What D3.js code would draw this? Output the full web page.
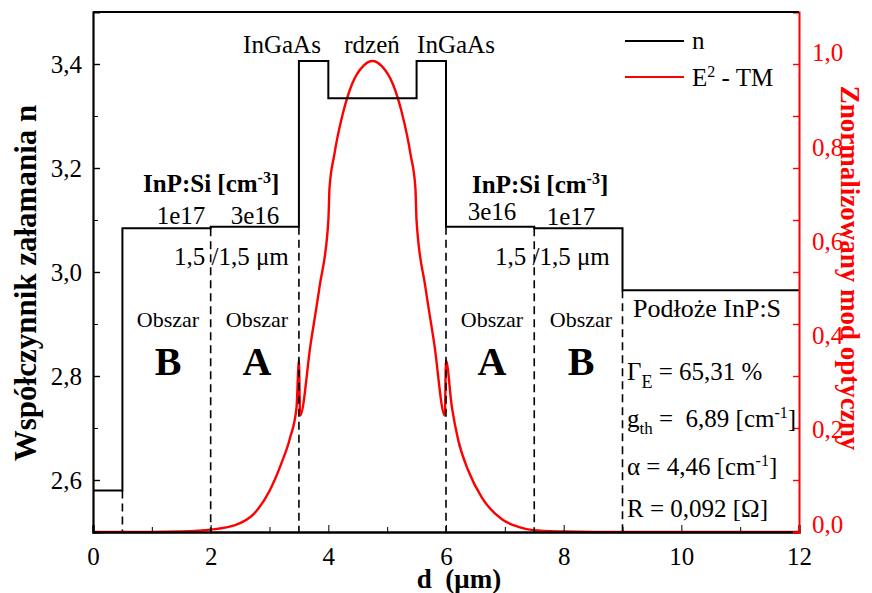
<!DOCTYPE html>
<html>
<head>
<meta charset="utf-8">
<script src="https://cdn.jsdelivr.net/npm/d3@7"></script>
<style>
  body { margin: 0; background: #fff; }
  svg text { font-family: "Liberation Serif", "Times New Roman", serif; }
</style>
</head>
<body>
<div id="chart"></div>
<script>
// warstwy falowodu: poczatek warstwy (um) i wspolczynnik n
var layerStart = [0, 0.5, 2, 3.5, 4, 5.5, 6, 7.5, 9];
var layerEnd = 12;
var layerN = [2.58, 3.084, 3.087, 3.406, 3.334, 3.406, 3.087, 3.084, 2.965];
var boundaries = [0.5, 2, 3.5, 6, 7.5, 9];

// znormalizowany mod E^2 - TM
var modeD = [0, 1.0, 1.5, 2.0, 2.4, 2.73, 3.0, 3.2, 3.35, 3.46, 3.5, 3.52, 3.7, 3.85, 4.0, 4.02,
             4.1, 4.25, 4.4, 4.6, 4.75, 4.9, 5.1, 5.25, 5.4, 5.48, 5.5, 5.65, 5.8, 5.98, 6.0,
             6.1, 6.21, 6.38, 6.61, 6.95, 7.23, 7.48, 8.0, 8.5, 12];
var modeE2 = [0, 0, 0.001, 0.005, 0.014, 0.038, 0.087, 0.145, 0.2, 0.265, 0.364, 0.247, 0.4, 0.52, 0.66, 0.73,
              0.8, 0.89, 0.95, 0.99, 1.0, 0.99, 0.95, 0.89, 0.8, 0.73, 0.66, 0.52, 0.4, 0.247, 0.364,
              0.265, 0.194, 0.13, 0.073, 0.027, 0.011, 0.004, 0.001, 0, 0];

var xTicks = [0, 2, 4, 6, 8, 10, 12];
var xMinor = [1, 3, 5, 7, 9, 11];
var nTicks = [2.6, 2.8, 3.0, 3.2, 3.4];
var nMinor = [2.5, 2.7, 2.9, 3.1, 3.3, 3.5];
var modeTicks = [0, 0.2, 0.4, 0.6, 0.8, 1.0];

var width = 872, height = 593;
var margin = { top: 12, right: 73, bottom: 61, left: 93 };
var red = "#ff0000";

var svg = d3.select("#chart").append("svg")
  .attr("width", width)
  .attr("height", height);

var x = d3.scaleLinear().domain([0, 12]).range([margin.left, width - margin.right]);
var yL = d3.scaleLinear().domain([2.5, 3.5]).range([height - margin.bottom, margin.top]);
var yR = d3.scaleLinear().domain([0, 1.104]).range([height - margin.bottom, margin.top]);

var comma = d => d3.format(".1f")(d).replace(".", ",");

// krzywa modu
var mode = modeD.map((d, i) => [d, modeE2[i]]);
svg.append("path")
  .datum(mode)
  .attr("fill", "none")
  .attr("stroke", red)
  .attr("stroke-width", 2.4)
  .attr("d", d3.line().x(d => x(d[0])).y(d => yR(d[1])).curve(d3.curveMonotoneX));

// profil n
var steps = layerStart.map((d, i) => [d, layerN[i]]);
steps.push([layerEnd, layerN[layerN.length - 1]]);
svg.append("path")
  .datum(steps)
  .attr("fill", "none")
  .attr("stroke", "#000")
  .attr("stroke-width", 2)
  .attr("d", d3.line().x(d => x(d[0])).y(d => yL(d[1])).curve(d3.curveStepAfter));

// przerywane granice warstw
svg.selectAll("line.bound")
  .data(boundaries)
  .join("line")
  .attr("class", "bound")
  .attr("x1", d => x(d)).attr("x2", d => x(d))
  .attr("y1", d => {
    var i = layerStart.indexOf(d);
    return yL(Math.min(layerN[i], layerN[i - 1]));
  })
  .attr("y2", yL(2.5))
  .attr("stroke", "#000")
  .attr("stroke-width", 1.6)
  .attr("stroke-dasharray", "8,5");

// osie
var fontAxis = "25px";

var gx = svg.append("g").attr("transform", `translate(0,${yL(2.5)})`)
  .call(d3.axisBottom(x).tickValues(xTicks).tickSize(-7).tickPadding(15).tickFormat(d3.format("d")));
svg.append("g").attr("transform", `translate(0,${yL(2.5)})`)
  .call(d3.axisBottom(x).tickValues(xMinor).tickSize(-5).tickFormat(""))
  .select(".domain").remove();
gx.select(".domain").attr("stroke-width", 2.4);
gx.selectAll("text").style("font-size", fontAxis).attr("fill", "#000");

var gy = svg.append("g").attr("transform", `translate(${x(0)},0)`)
  .call(d3.axisLeft(yL).tickValues(nTicks).tickSize(-7).tickPadding(11).tickFormat(comma));
svg.append("g").attr("transform", `translate(${x(0)},0)`)
  .call(d3.axisLeft(yL).tickValues(nMinor).tickSize(-5).tickFormat(""))
  .select(".domain").remove();
gy.select(".domain").attr("stroke-width", 2.2);
gy.selectAll("text").style("font-size", fontAxis).attr("fill", "#000");
gy.selectAll("line").attr("stroke-width", 1.4);

// prawa os: kreski jak lewa os, opisy wg skali modu
var gr = svg.append("g").attr("transform", `translate(${x(12)},0)`)
  .call(d3.axisRight(yL).tickValues(nTicks.concat(nMinor)).tickSize(-6).tickFormat(""));
gr.select(".domain").attr("stroke", red).attr("stroke-width", 2);
gr.selectAll("line").attr("stroke", red).attr("stroke-width", 1.4);

var grl = svg.append("g").attr("transform", `translate(${x(12)},-8)`)
  .call(d3.axisRight(yR).tickValues(modeTicks).tickSize(0).tickPadding(13).tickFormat(comma));
grl.select(".domain").remove();
grl.selectAll("text").style("font-size", fontAxis).attr("fill", red);

// gorna ramka
svg.append("line")
  .attr("x1", x(0)).attr("x2", x(12))
  .attr("y1", yL(3.5)).attr("y2", yL(3.5))
  .attr("stroke", "#000").attr("stroke-width", 1.8);

// tytuly osi
svg.append("text")
  .attr("transform", "translate(36,283) rotate(-90)")
  .attr("text-anchor", "middle")
  .style("font-size", "31px").style("font-weight", "bold")
  .text("Współczynnik załamania n");

svg.append("text")
  .attr("transform", "translate(841,268) rotate(90)")
  .attr("text-anchor", "middle")
  .attr("fill", red)
  .style("font-size", "27px").style("font-weight", "bold")
  .text("Znormalizowany mod optyczny");

svg.append("text")
  .attr("x", 459).attr("y", 588)
  .attr("text-anchor", "middle")
  .style("font-size", "27px").style("font-weight", "bold")
  .style("white-space", "pre")
  .text("d  (μm)");

// pomocnicza funkcja do tekstu z indeksami
function rich(px, py, parts, opts) {
  opts = opts || {};
  var t = svg.append("text")
    .attr("x", px).attr("y", py)
    .attr("text-anchor", opts.anchor || "start")
    .style("font-size", opts.size || "25px")
    .style("font-weight", opts.bold ? "bold" : "normal")
    .style("white-space", "pre")
    .attr("fill", opts.color || "#000");
  var shift = 0;
  parts.forEach(p => {
    var s = p[1] || 0;
    t.append("tspan")
      .attr("dy", s - shift)
      .style("font-size", p[2] || null)
      .text(p[0]);
    shift = s;
  });
  return t;
}

// legenda
svg.append("line").attr("x1", 625).attr("x2", 684).attr("y1", 41).attr("y2", 41)
  .attr("stroke", "#000").attr("stroke-width", 2);
rich(692, 49, [["n"]]);
svg.append("line").attr("x1", 625).attr("x2", 684).attr("y1", 77).attr("y2", 77)
  .attr("stroke", red).attr("stroke-width", 2);
rich(692, 86, [["E"], ["2", -9, "16px"], [" - TM", 0]]);

// opisy warstw
rich(282, 53, [["InGaAs"]], { anchor: "middle" });
rich(372, 53, [["rdzeń"]], { anchor: "middle" });
rich(456, 53, [["InGaAs"]], { anchor: "middle" });

rich(143, 192, [["InP:Si [cm"], ["-3", -9, "16px"], ["]", 0]], { bold: true });
rich(472, 193, [["InP:Si [cm"], ["-3", -9, "16px"], ["]", 0]], { bold: true });

rich(181, 224, [["1e17"]], { anchor: "middle" });
rich(255, 224, [["3e16"]], { anchor: "middle" });
rich(492, 220, [["3e16"]], { anchor: "middle" });
rich(571, 225, [["1e17"]], { anchor: "middle" });

rich(174, 265, [["1,5 /1,5 μm"]]);
rich(495, 265, [["1,5 /1,5 μm"]]);

[[168, "B"], [257, "A"], [492, "A"], [581, "B"]].forEach(a => {
  rich(a[0], 327, [["Obszar"]], { anchor: "middle", size: "22px" });
  rich(a[0], 375, [[a[1]]], { anchor: "middle", size: "40px", bold: true });
});

rich(633, 317, [["Podłoże InP:S"]], { size: "26px" });
rich(627, 380, [["Γ"], ["E", 8, "18px"], [" = 65,31 %", 0]]);
rich(627, 427, [["g"], ["th", 7, "17px"], [" =  6,89 [cm", 0], ["-1", -9, "16px"], ["]", 0]]);
rich(627, 475, [["α = 4,46 [cm"], ["-1", -9, "16px"], ["]", 0]]);
rich(627, 517, [["R = 0,092 [Ω]"]]);
</script>
</body>
</html>
